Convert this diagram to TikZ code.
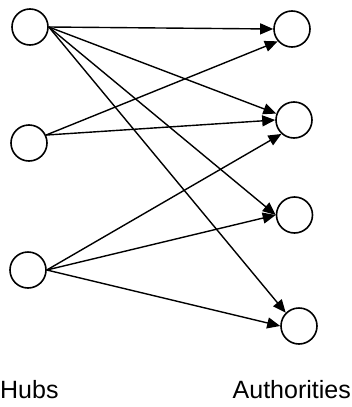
\documentclass[tikz,border=0pt]{standalone}
\usepackage{fontspec}
\setmainfont{Liberation Sans}
\usetikzlibrary{arrows.meta}
\begin{document}
\begin{tikzpicture}[x=1pt,y=-1pt,
  vert/.style={circle,draw,line width=1.6pt,minimum size=36pt,inner sep=0pt},
  link/.style={line width=1.4pt,-{Triangle[length=13pt,width=11pt]}},
  lbl/.style={font=\fontsize{25}{30}\selectfont,inner sep=0pt}]
\useasboundingbox (0,0) rectangle (351,407);
\node[vert] (h1) at (30,27) {};
\node[vert] (h2) at (29,143) {};
\node[vert] (h3) at (28,270) {};
\node[vert] (a1) at (292,29) {};
\node[vert] (a2) at (294,120) {};
\node[vert] (a3) at (294.5,215) {};
\node[vert] (a4) at (299,326) {};
\draw[link] (h1.east) -- (a1.west);
\draw[link] (h1.east) -- (a2.160);
\draw[link] (h1.east) -- (a3.west);
\draw[link] (h1.east) -- (a4.135);
\draw[link] (h2.25) -- (a1.221);
\draw[link] (h2.25) -- (a2.west);
\draw[link] (h3.east) -- (a2.228);
\draw[link] (h3.east) -- (a3.west);
\draw[link] (h3.east) -- (a4.west);
\node[lbl,anchor=base west] (hubs) at (0,398) {Hubs};
\node[lbl,anchor=base east] (auth) at (351,398) {Authorities};
\end{tikzpicture}
\end{document}
